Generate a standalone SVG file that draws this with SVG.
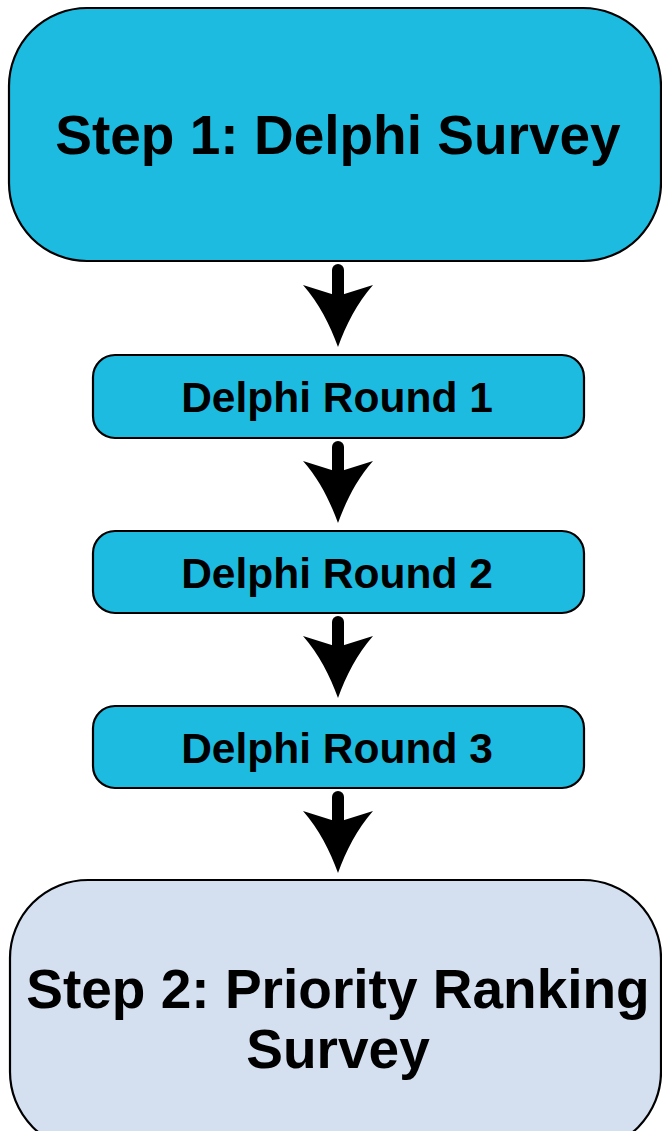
<svg xmlns="http://www.w3.org/2000/svg" width="662" height="1131" viewBox="0 0 662 1131">
<style>
.box{stroke:#000;stroke-width:2.2}
.cyan{fill:#1ebbe0}
.pale{fill:#d4dff0}
.t{font-family:"Liberation Sans",Arial,sans-serif;font-weight:bold;fill:#000;text-anchor:middle}
.big{font-size:55px}
.small{font-size:42.5px}
.shaft{stroke:#000;stroke-width:12;stroke-linecap:round}
</style>
<defs>
<path id="head" d="M-35,0 L0,11 L35,0 C19,18 8,40 0,62 C-8,40 -19,18 -35,0 Z" fill="#000"/>
</defs>
<rect width="662" height="1131" fill="#fff"/>
<g id="connectors">
<g><line class="shaft" x1="338" y1="270" x2="338" y2="300"/><use href="#head" x="338" y="285"/></g>
<g><line class="shaft" x1="338" y1="447" x2="338" y2="476"/><use href="#head" x="338" y="461"/></g>
<g><line class="shaft" x1="338" y1="622" x2="338" y2="651"/><use href="#head" x="338" y="636"/></g>
<g><line class="shaft" x1="338" y1="797" x2="338" y2="826"/><use href="#head" x="338" y="811"/></g>
</g>
<g id="step1">
<rect class="box cyan" x="9" y="8" width="652" height="253" rx="78" ry="78"/>
<text class="t big" x="338" y="154">Step 1: Delphi Survey</text>
</g>
<g id="round1">
<rect class="box cyan" x="93" y="355" width="491" height="83" rx="22" ry="22"/>
<text class="t small" x="337" y="412">Delphi Round 1</text>
</g>
<g id="round2">
<rect class="box cyan" x="93" y="531" width="491" height="82" rx="22" ry="22"/>
<text class="t small" x="337" y="588">Delphi Round 2</text>
</g>
<g id="round3">
<rect class="box cyan" x="93" y="706" width="491" height="82" rx="22" ry="22"/>
<text class="t small" x="337" y="763">Delphi Round 3</text>
</g>
<g id="step2">
<rect class="box pale" x="10" y="880" width="651" height="270" rx="78" ry="78"/>
<text class="t big" x="338" y="1008">Step 2: Priority Ranking</text>
<text class="t big" x="338" y="1068">Survey</text>
</g>
</svg>
